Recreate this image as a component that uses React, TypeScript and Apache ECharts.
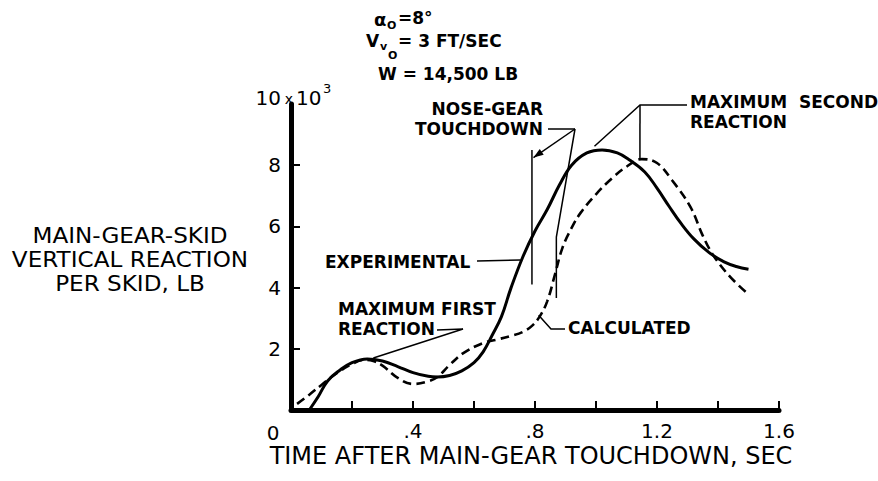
import React, { useEffect, useRef } from "react";
import * as echarts from "echarts";

const FONT = '"DejaVu Sans", sans-serif';

// Experimental (solid) curve: time (s) and reaction (10^3 lb)
const experimentalTime = [0.06, 0.09, 0.12, 0.16, 0.2, 0.25, 0.3, 0.35, 0.4, 0.45, 0.48, 0.52, 0.56, 0.6, 0.63, 0.66, 0.69, 0.72, 0.76, 0.8, 0.84, 0.88, 0.92, 0.97, 1.02, 1.07, 1.11, 1.16, 1.2, 1.24, 1.28, 1.32, 1.37, 1.42, 1.46, 1.5];
const experimentalReaction = [0, 0.45, 0.95, 1.3, 1.55, 1.67, 1.6, 1.42, 1.22, 1.1, 1.08, 1.13, 1.28, 1.55, 1.9, 2.45, 3.05, 3.95, 5.0, 5.85, 6.55, 7.35, 8.0, 8.4, 8.5, 8.4, 8.17, 7.78, 7.25, 6.65, 6.08, 5.6, 5.15, 4.84, 4.69, 4.6];

// Calculated (dashed) curve
const calculatedTime = [0.02, 0.06, 0.1, 0.15, 0.2, 0.24, 0.27, 0.3, 0.35, 0.4, 0.445, 0.48, 0.52, 0.565, 0.63, 0.675, 0.72, 0.76, 0.79, 0.815, 0.84, 0.866, 0.89, 0.92, 0.95, 1.0, 1.05, 1.1, 1.15, 1.2, 1.25, 1.31, 1.35, 1.385, 1.44, 1.5];
const calculatedReaction = [0.2, 0.5, 0.82, 1.2, 1.5, 1.64, 1.6, 1.45, 1.05, 0.85, 0.92, 1.08, 1.47, 1.86, 2.19, 2.3, 2.42, 2.55, 2.75, 3.05, 3.55, 4.45, 5.3, 5.95, 6.45, 7.05, 7.55, 7.95, 8.2, 8.07, 7.5, 6.63, 5.7, 5.05, 4.35, 3.78];

// Tick labels
const xTickValues = [0.4, 0.8, 1.2, 1.6];
const yTickValues = [2, 4, 6, 8];

const toPairs = (xs: number[], ys: number[]) => xs.map((x, i) => [x, ys[i]]);

export default function App() {
  const ref = useRef<HTMLDivElement>(null);

  useEffect(() => {
    if (!ref.current) return;
    const chart = echarts.init(ref.current, null, { renderer: "svg" });
    const axisLine = { show: true, lineStyle: { color: "#000", width: 5 } };
    chart.setOption({
      animation: false,
      backgroundColor: "#fff",
      grid: { left: 291, top: 104, width: 488, height: 306, containLabel: false },
      xAxis: {
        type: "value",
        min: 0,
        max: 1.6,
        interval: 0.2,
        axisLine,
        axisTick: { show: true, inside: true, length: 9, lineStyle: { color: "#000", width: 2 } },
        splitLine: { show: false },
        axisLabel: {
          customValues: xTickValues,
          formatter: (v: number) => String(v).replace(/^0\./, "."),
          fontSize: 20,
          fontFamily: FONT,
          color: "#000",
          margin: 11,
        },
      },
      yAxis: {
        type: "value",
        min: 0,
        max: 10,
        interval: 2,
        axisLine,
        axisTick: { show: true, inside: true, length: 9, customValues: yTickValues, lineStyle: { color: "#000", width: 2 } },
        splitLine: { show: false },
        axisLabel: {
          customValues: yTickValues,
          fontSize: 20,
          fontFamily: FONT,
          color: "#000",
          margin: 10,
        },
      },
      series: [
        {
          type: "line",
          name: "EXPERIMENTAL",
          data: toPairs(experimentalTime, experimentalReaction),
          smooth: 0.4,
          showSymbol: false,
          lineStyle: { color: "#000", width: 3 },
        },
        {
          type: "line",
          name: "CALCULATED",
          data: toPairs(calculatedTime, calculatedReaction),
          smooth: 0.4,
          showSymbol: false,
          lineStyle: { color: "#000", width: 2.6, type: [9, 5] },
        },
      ],
    });

    const px = (t: number, v: number) => chart.convertToPixel({ gridIndex: 0 }, [t, v]) as number[];
    const txt = (x: number, y: number, text: string, o: any = {}) => ({
      type: "text",
      x,
      y,
      scaleX: o.scaleX ?? 1,
      silent: true,
      style: {
        text,
        fill: "#000",
        fontFamily: FONT,
        fontSize: o.size ?? 17,
        fontWeight: o.weight ?? "bold",
        align: o.align ?? "left",
        verticalAlign: "middle",
        lineHeight: o.lineHeight,
      },
    });
    const ln = (pts: number[][], w = 1.5) => ({
      type: "polyline",
      silent: true,
      shape: { points: pts },
      style: { stroke: "#000", lineWidth: w, fill: null },
    });

    // leader anchors
    const hubNose = [575, 129];
    const noseTip = px(0.795, 8.25);
    const nose1Top = px(0.79, 8.5);
    const nose1Bot = px(0.79, 4.1);
    const nose2Top = px(0.87, 5.65);
    const nose2Bot = px(0.87, 3.66);
    const dx = noseTip[0] - hubNose[0];
    const dy = noseTip[1] - hubNose[1];
    const len = Math.hypot(dx, dy);
    const ux = dx / len, uy = dy / len;
    const bx = noseTip[0] - 10 * ux, by = noseTip[1] - 10 * uy;
    const arrow = {
      type: "polygon",
      silent: true,
      shape: { points: [noseTip, [bx - 3.5 * uy, by + 3.5 * ux], [bx + 3.5 * uy, by - 3.5 * ux]] },
      style: { fill: "#000" },
    };
    const hubSecond = [640, 105];
    const solidPeak = px(0.995, 8.62);
    const dashedPeak = px(1.144, 8.2);
    const hubFirst = [463, 329];
    const firstPeak = px(0.27, 1.7);
    const expPt = px(0.752, 4.9);
    const calcPt = px(0.812, 3.1);

    const graphic = [
      // top parameters
      txt(374, 19, "α", { size: 18 }),
      txt(387, 25, "O", { size: 11 }),
      txt(398, 18, "=8°", { size: 17 }),
      txt(366, 41, "V", { size: 17 }),
      txt(380, 46, "v", { size: 11 }),
      txt(388, 55, "O", { size: 11 }),
      txt(398, 41, "= 3 FT/SEC", { size: 17 }),
      txt(378, 74, "W = 14,500 LB", { size: 17 }),
      // y-axis scale
      txt(281, 98, "10", { size: 20, weight: "normal", align: "right" }),
      txt(289, 99, "x", { size: 14, weight: "normal", align: "center" }),
      txt(296, 98, "10", { size: 20, weight: "normal" }),
      txt(323, 88, "3", { size: 13, weight: "normal" }),
      // origin label
      txt(273, 433, "0", { size: 20, weight: "normal", align: "center" }),
      // axis titles
      txt(130, 260, "MAIN-GEAR-SKID\nVERTICAL REACTION\nPER SKID, LB", { size: 21, weight: "normal", align: "center", lineHeight: 24, scaleX: 1.1 }),
      txt(531, 456, "TIME AFTER MAIN-GEAR TOUCHDOWN, SEC", { size: 24, weight: "normal", align: "center" }),
      // annotations
      txt(543, 119, "NOSE-GEAR\nTOUCHDOWN", { align: "right", lineHeight: 20 }),
      txt(690, 112, "MAXIMUM  SECOND\nREACTION", { lineHeight: 20 }),
      txt(325, 262, "EXPERIMENTAL"),
      txt(338, 319, "MAXIMUM FIRST\nREACTION", { lineHeight: 20 }),
      txt(568, 328, "CALCULATED"),
      // leaders
      ln([[548, hubNose[1]], hubNose]),
      ln([hubNose, noseTip]),
      arrow,
      ln([hubNose, nose2Top, nose2Bot]),
      ln([nose1Top, nose1Bot]),
      ln([[687, hubSecond[1]], hubSecond, solidPeak]),
      ln([hubSecond, dashedPeak]),
      ln([[437, 330], hubFirst, firstPeak]),
      ln([[477, 261], expPt]),
      ln([[565, 329], [551, 329], calcPt]),
    ];
    chart.setOption({ graphic });
    return () => chart.dispose();
  }, []);

  return <div ref={ref} style={{ position: "absolute", left: 0, top: 0, width: 878, height: 481 }} />;
}
